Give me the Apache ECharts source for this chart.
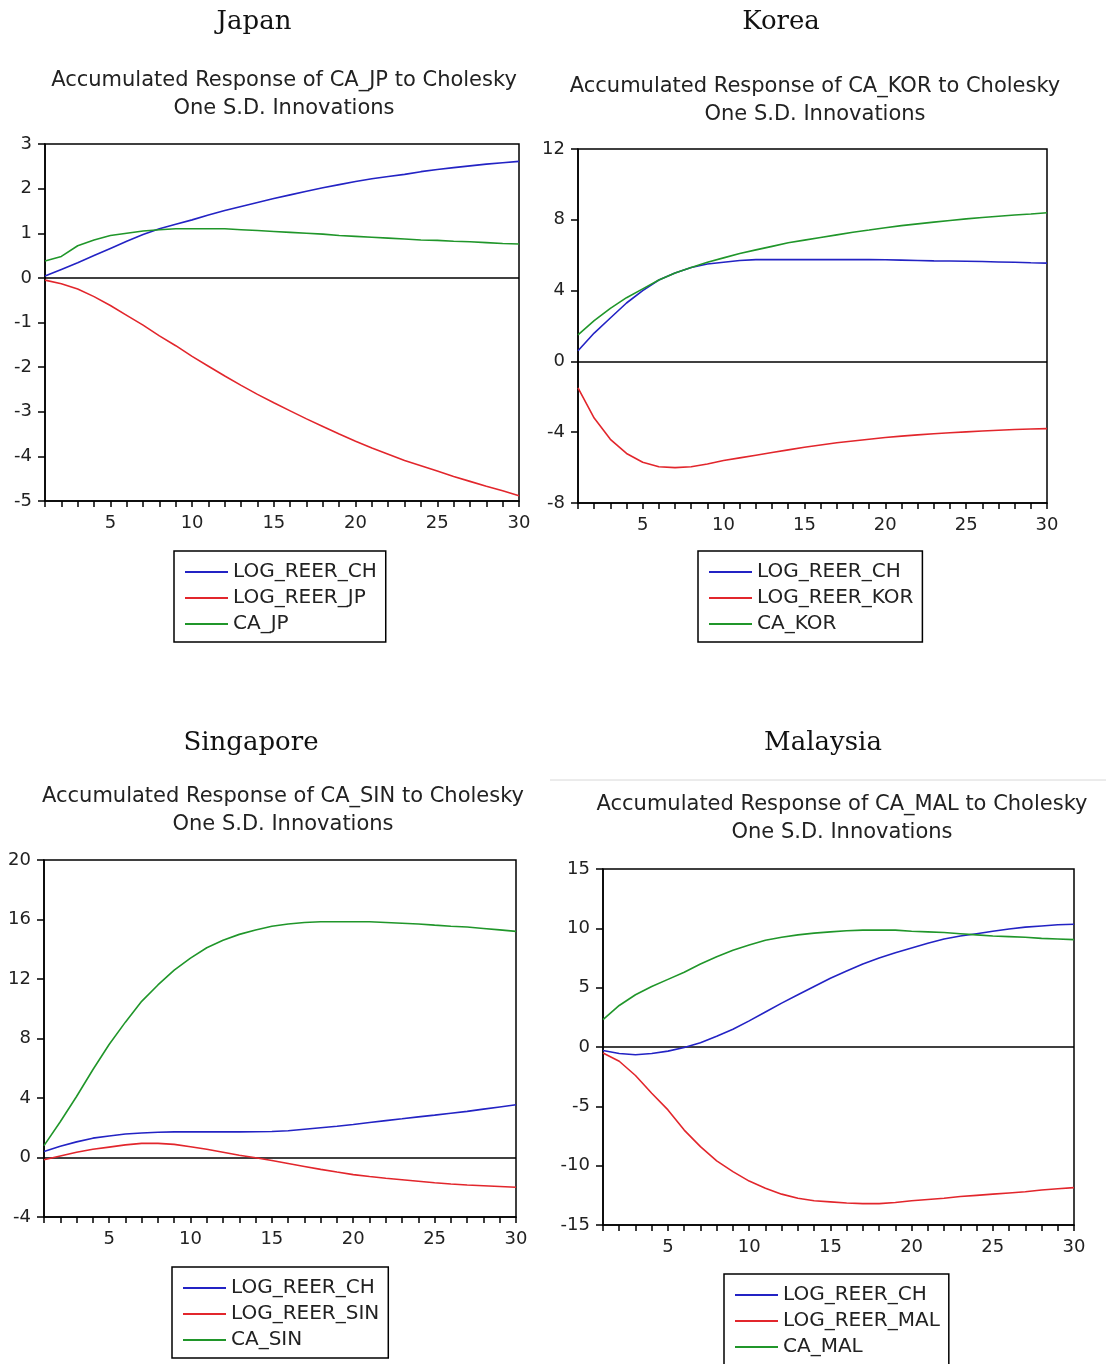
<!DOCTYPE html>
<html>
<head>
<meta charset="utf-8">
<script src="https://cdn.jsdelivr.net/npm/echarts@6/dist/echarts.min.js"></script>
<style>
html,body{margin:0;padding:0;background:#fff;}
#chart{width:1106px;height:1364px;}
</style>
</head>
<body>
<div id="chart"></div>
<script>
// ---- data ----
var periods = [1,2,3,4,5,6,7,8,9,10,11,12,13,14,15,16,17,18,19,20,21,22,23,24,25,26,27,28,29,30];

var countries = ["Japan", "Korea", "Singapore", "Malaysia"];
var titles = [
  "Accumulated Response of CA_JP to Cholesky\nOne S.D. Innovations",
  "Accumulated Response of CA_KOR to Cholesky\nOne S.D. Innovations",
  "Accumulated Response of CA_SIN to Cholesky\nOne S.D. Innovations",
  "Accumulated Response of CA_MAL to Cholesky\nOne S.D. Innovations"
];
var seriesNames = [
  ["LOG_REER_CH", "LOG_REER_JP", "CA_JP"],
  ["LOG_REER_CH", "LOG_REER_KOR", "CA_KOR"],
  ["LOG_REER_CH", "LOG_REER_SIN", "CA_SIN"],
  ["LOG_REER_CH", "LOG_REER_MAL", "CA_MAL"]
];

// Japan
var jpReerCh = [0.04,0.19,0.34,0.5,0.66,0.82,0.97,1.1,1.2,1.3,1.41,1.51,1.6,1.69,1.78,1.86,1.94,2.02,2.09,2.16,2.22,2.27,2.32,2.38,2.43,2.47,2.51,2.55,2.58,2.61];
var jpReerJp = [-0.05,-0.13,-0.25,-0.42,-0.62,-0.84,-1.06,-1.3,-1.52,-1.76,-1.98,-2.2,-2.41,-2.61,-2.8,-2.98,-3.16,-3.33,-3.5,-3.66,-3.81,-3.95,-4.09,-4.21,-4.33,-4.45,-4.56,-4.67,-4.77,-4.88];
var jpCa     = [0.38,0.48,0.72,0.85,0.95,1.0,1.05,1.08,1.1,1.1,1.1,1.1,1.08,1.06,1.04,1.02,1.0,0.98,0.95,0.93,0.91,0.89,0.87,0.85,0.84,0.82,0.81,0.79,0.77,0.76];

// Korea
var korReerCh  = [0.6,1.6,2.45,3.3,4.0,4.6,5.0,5.3,5.5,5.6,5.7,5.75,5.75,5.75,5.75,5.75,5.75,5.75,5.75,5.74,5.72,5.7,5.68,5.67,5.66,5.64,5.62,5.6,5.57,5.55];
var korReerKor = [-1.5,-3.2,-4.4,-5.2,-5.7,-5.95,-6.0,-5.95,-5.8,-5.6,-5.45,-5.3,-5.15,-5.0,-4.85,-4.72,-4.6,-4.5,-4.4,-4.3,-4.22,-4.15,-4.09,-4.03,-3.98,-3.93,-3.89,-3.85,-3.82,-3.8];
var korCa      = [1.5,2.3,3.0,3.6,4.1,4.6,5.0,5.3,5.6,5.85,6.1,6.3,6.5,6.7,6.85,7.0,7.15,7.3,7.42,7.55,7.67,7.77,7.87,7.96,8.05,8.13,8.2,8.27,8.33,8.4];

// Singapore
var sinReerCh  = [0.4,0.75,1.05,1.3,1.45,1.58,1.65,1.7,1.72,1.72,1.72,1.72,1.72,1.73,1.75,1.8,1.9,2.0,2.1,2.22,2.35,2.48,2.6,2.73,2.85,2.98,3.1,3.25,3.4,3.55];
var sinReerSin = [-0.15,0.1,0.35,0.55,0.7,0.85,0.95,0.95,0.88,0.72,0.55,0.35,0.15,-0.02,-0.2,-0.4,-0.6,-0.8,-0.98,-1.15,-1.28,-1.4,-1.5,-1.6,-1.7,-1.78,-1.85,-1.9,-1.95,-2.0];
var sinCa      = [0.8,2.4,4.1,5.9,7.6,9.1,10.5,11.6,12.6,13.4,14.1,14.6,15.0,15.3,15.55,15.7,15.8,15.85,15.85,15.85,15.85,15.8,15.75,15.7,15.62,15.55,15.5,15.4,15.3,15.2];

// Malaysia
var malReerCh  = [-0.3,-0.55,-0.65,-0.55,-0.35,-0.05,0.35,0.9,1.5,2.2,2.95,3.7,4.4,5.1,5.8,6.4,7.0,7.5,7.95,8.35,8.75,9.1,9.35,9.55,9.75,9.95,10.1,10.2,10.3,10.35];
var malReerMal = [-0.5,-1.2,-2.4,-3.9,-5.3,-7.0,-8.4,-9.6,-10.5,-11.3,-11.9,-12.4,-12.75,-12.95,-13.05,-13.15,-13.2,-13.2,-13.1,-12.95,-12.85,-12.75,-12.6,-12.5,-12.4,-12.3,-12.2,-12.05,-11.95,-11.85];
var malCa      = [2.3,3.5,4.4,5.1,5.7,6.3,7.0,7.6,8.15,8.6,9.0,9.25,9.45,9.6,9.7,9.8,9.85,9.85,9.85,9.75,9.7,9.65,9.55,9.45,9.35,9.3,9.25,9.15,9.1,9.05];

var panelValues = [
  [jpReerCh, jpReerJp, jpCa],
  [korReerCh, korReerKor, korCa],
  [sinReerCh, sinReerSin, sinCa],
  [malReerCh, malReerMal, malCa]
];
var yMin = [-5, -8, -4, -15];
var yMax = [3, 12, 20, 15];
var yStep = [1, 4, 4, 5];
var xTickLabels = [5, 10, 15, 20, 25, 30];

// ---- layout (pixels) ----
var grids = [
  {left: 45,  top: 144, width: 474, height: 357},
  {left: 578, top: 149, width: 469, height: 354},
  {left: 44,  top: 860, width: 472, height: 357},
  {left: 603, top: 869, width: 471, height: 356}
];
var countryPos = [[254, 9], [781, 9], [251, 730], [823, 730]];
var titlePos = [[284, 67], [815, 73], [283, 783], [842, 791]];
var legendPos = [[174, 551], [698, 551], [172, 1267], [724, 1274]];
var colors = ["#2323c4", "#e2262c", "#20962a"];

var FONT = "DejaVu Sans";
var option = {
  backgroundColor: "#ffffff",
  animation: false,
  title: [],
  legend: [],
  grid: [],
  xAxis: [],
  yAxis: [],
  series: [],
  graphic: [{
    type: "line", shape: {x1: 550, y1: 780, x2: 1106, y2: 780},
    style: {stroke: "#d8d8d8", lineWidth: 1}, silent: true
  }]
};

for (var p = 0; p < 4; p++) {
  option.title.push({
    text: countries[p], left: countryPos[p][0], top: countryPos[p][1], textAlign: "center", padding: 0,
    textStyle: {fontFamily: "DejaVu Serif", fontSize: 26, fontWeight: "normal", color: "#111"}
  });
  option.title.push({
    text: titles[p], left: titlePos[p][0], top: titlePos[p][1], textAlign: "center", padding: 0,
    textStyle: {fontFamily: FONT, fontSize: 21, fontWeight: "normal", color: "#222", lineHeight: 28}
  });
  option.grid.push({
    left: grids[p].left, top: grids[p].top, width: grids[p].width, height: grids[p].height,
    show: true, borderColor: "#000", borderWidth: 1.5, backgroundColor: "transparent"
  });
  option.xAxis.push({
    type: "value", gridIndex: p, min: 1, max: 30, interval: 1,
    axisLine: {onZero: false, lineStyle: {color: "#000", width: 1.5}},
    axisTick: {show: true, length: 6, lineStyle: {color: "#000", width: 1.5}},
    splitLine: {show: false},
    axisLabel: {
      fontFamily: FONT, fontSize: 18, color: "#222", margin: 13,
      formatter: function (v) { return xTickLabels.indexOf(v) >= 0 ? String(v) : ""; }
    }
  });
  option.yAxis.push({
    type: "value", gridIndex: p, min: yMin[p], max: yMax[p], interval: yStep[p],
    axisLine: {show: true, lineStyle: {color: "#000", width: 1.5}},
    axisTick: {show: true, length: 7, lineStyle: {color: "#000", width: 1.5}},
    splitLine: {show: false},
    axisLabel: {fontFamily: FONT, fontSize: 18, color: "#222", margin: 13}
  });
  for (var s = 0; s < 3; s++) {
    var data = periods.map(function (x, i) { return [x, panelValues[p][s][i]]; });
    var ser = {
      type: "line", name: seriesNames[p][s], xAxisIndex: p, yAxisIndex: p,
      data: data, symbol: "none", showSymbol: false, smooth: false,
      color: colors[s],
      lineStyle: {color: colors[s], width: 1.6}, z: 3
    };
    if (s === 0) {
      ser.markLine = {
        silent: true, symbol: "none", label: {show: false},
        lineStyle: {color: "#000", width: 1.6, type: "solid"},
        data: [{yAxis: 0}], z: 2
      };
    }
    option.series.push(ser);
  }
  option.legend.push({
    orient: "vertical", left: legendPos[p][0], top: legendPos[p][1], height: 130,
    data: seriesNames[p].map(function (n, i) { return {name: n, itemStyle: {color: colors[i]}}; }),
    icon: "rect", itemWidth: 43, itemHeight: 2, itemGap: 6,
    padding: [11, 9, 8, 11],
    borderColor: "#000", borderWidth: 1.5, borderRadius: 0,
    selectedMode: false,
    textStyle: {fontFamily: FONT, fontSize: 20, color: "#222", lineHeight: 20, padding: [0, 0, 0, 0]}
  });
}

var chart = echarts.init(document.getElementById("chart"), null, {renderer: "canvas"});
chart.setOption(option);
</script>
</body>
</html>
